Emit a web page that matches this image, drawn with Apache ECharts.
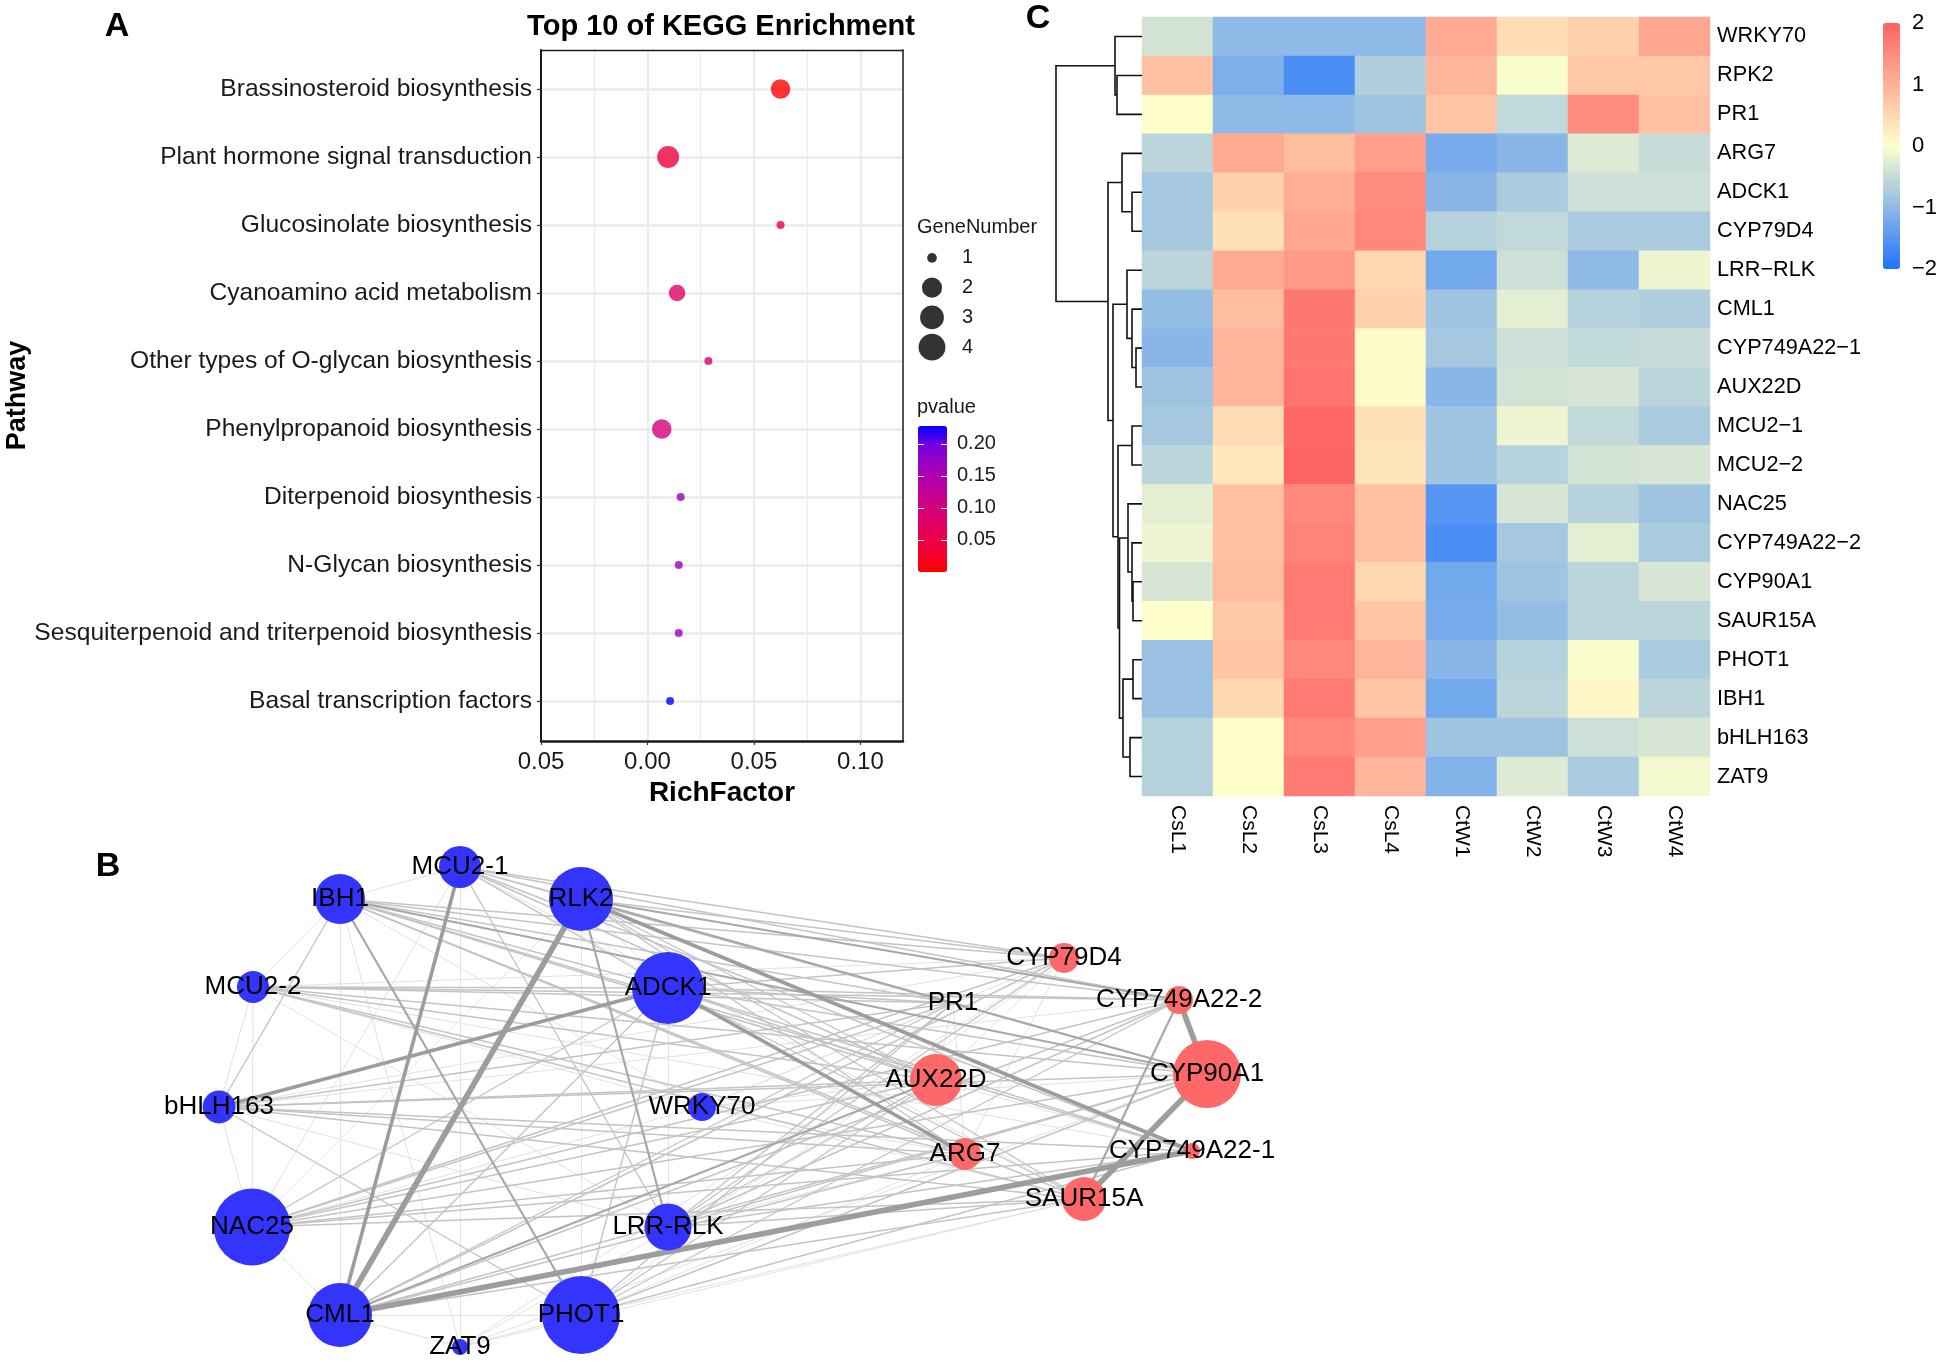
<!DOCTYPE html>
<html><head><meta charset="utf-8">
<script src="https://cdn.jsdelivr.net/npm/echarts@6/dist/echarts.min.js"></script>
<style>html,body{margin:0;padding:0;background:#fff}#c{width:1944px;height:1364px}</style>
</head><body><div id="c"></div>
<script>
// ===== Panel A: KEGG enrichment =====
const pathways = ['Brassinosteroid biosynthesis','Plant hormone signal transduction','Glucosinolate biosynthesis','Cyanoamino acid metabolism','Other types of O-glycan biosynthesis','Phenylpropanoid biosynthesis','Diterpenoid biosynthesis','N-Glycan biosynthesis','Sesquiterpenoid and triterpenoid biosynthesis','Basal transcription factors'];
const richFactor = [0.0625, 0.0097, 0.0625, 0.0139, 0.0286, 0.0067, 0.0156, 0.0147, 0.0147, 0.0106];
const geneNumber = [3, 4, 1, 2, 1, 3, 1, 1, 1, 1];
const pValue = [0.002, 0.040, 0.042, 0.075, 0.082, 0.100, 0.170, 0.168, 0.168, 0.228];
const richTicks = [-0.05, 0, 0.05, 0.10];
const richMinorTicks = [-0.025, 0.025, 0.075];
const pTicks = [0.05, 0.10, 0.15, 0.20];
const geneLegendValues = ['1','2','3','4'];

// ===== Panel C: heatmap (row z-scores) =====
const sampleNames = ['CsL1','CsL2','CsL3','CsL4','CtW1','CtW2','CtW3','CtW4'];
const geneRows = ['WRKY70','RPK2','PR1','ARG7','ADCK1','CYP79D4','LRR−RLK','CML1','CYP749A22−1','AUX22D','MCU2−1','MCU2−2','NAC25','CYP749A22−2','CYP90A1','SAUR15A','PHOT1','IBH1','bHLH163','ZAT9'];
const zScores = [
  [-0.40,-1.00,-1.00,-1.00, 1.10, 0.45, 0.60, 1.15],
  [ 0.80,-1.15,-1.60,-0.70, 0.95,-0.05, 0.70, 0.70],
  [ 0.00,-1.00,-1.00,-0.85, 0.75,-0.55, 1.50, 0.80],
  [-0.60, 1.10, 0.85, 1.25,-1.20,-1.05,-0.30,-0.50],
  [-0.80, 0.60, 1.05, 1.50,-1.05,-0.75,-0.45,-0.45],
  [-0.80, 0.40, 1.15, 1.55,-0.65,-0.55,-0.75,-0.75],
  [-0.60, 1.10, 1.30, 0.50,-1.25,-0.45,-1.00,-0.15],
  [-0.95, 0.85, 1.75, 0.60,-0.85,-0.25,-0.65,-0.70],
  [-1.05, 0.95, 1.75, 0.05,-0.80,-0.45,-0.55,-0.50],
  [-0.85, 0.95, 1.80, 0.05,-1.05,-0.40,-0.35,-0.60],
  [-0.80, 0.45, 1.95, 0.40,-0.85,-0.15,-0.55,-0.75],
  [-0.60, 0.30, 2.00, 0.35,-0.85,-0.65,-0.40,-0.35],
  [-0.25, 0.80, 1.55, 0.80,-1.50,-0.35,-0.65,-0.85],
  [-0.15, 0.80, 1.60, 0.80,-1.60,-0.80,-0.25,-0.75],
  [-0.35, 0.85, 1.70, 0.50,-1.25,-0.85,-0.60,-0.35],
  [ 0.00, 0.70, 1.70, 0.75,-1.20,-0.95,-0.60,-0.60],
  [-0.90, 0.75, 1.55, 0.95,-1.05,-0.65,-0.05,-0.75],
  [-0.90, 0.50, 1.70, 0.75,-1.25,-0.60, 0.10,-0.60],
  [-0.65, 0.00, 1.55, 1.25,-0.85,-0.85,-0.45,-0.35],
  [-0.65, 0.00, 1.70, 0.95,-1.10,-0.30,-0.75,-0.10]
];
// row dendrogram merges: [child A, child B, merge height]; 'mK' = K-th merge
const dendroMerges = [
  ['RPK2','PR1',2.5], ['WRKY70','m0',2.7], ['ADCK1','CYP79D4',1.0], ['ARG7','m2',2.0],
  ['CYP749A22−1','AUX22D',0.6], ['CML1','m4',1.0], ['LRR−RLK','m5',1.5], ['MCU2−1','MCU2−2',1.0],
  ['CYP90A1','SAUR15A',0.9], ['CYP749A22−2','m8',1.0], ['NAC25','m9',1.4], ['PHOT1','IBH1',0.9],
  ['bHLH163','ZAT9',1.2], ['m11','m12',1.9], ['m10','m13',2.25], ['m7','m14',2.4],
  ['m6','m15',2.9], ['m3','m16',3.4], ['m1','m17',8.6]
];

// ===== Panel B: co-expression network =====
const netNodes  = ['MCU2-1','IBH1','RLK2','MCU2-2','ADCK1','bHLH163','WRKY70','NAC25','LRR-RLK','CML1','PHOT1','ZAT9','CYP79D4','PR1','CYP749A22-2','AUX22D','CYP90A1','ARG7','CYP749A22-1','SAUR15A'];
const netGroup  = ['down','down','down','down','down','down','down','down','down','down','down','down','up','up','up','up','up','up','up','up'];
const netLayoutX = [31.0,19.0,43.1,10.3,51.8, 6.9,55.2,10.2,51.8,19.0,43.1,31.0, 91.4,80.3,102.9,78.6,105.7,81.5,104.2,93.4];
const netLayoutY = [ 2.7, 5.9, 5.9,14.7,14.8,26.7,26.7,38.7,38.7,47.5,47.5,50.7, 11.8,16.3, 16.0,24.0, 23.4,31.4, 31.1,35.9];
const netDegree = [10.5,12.5,16,8,18,8.2,7,19.2,11.8,16,19.5,4, 7.5,0.3,7,13,17,8,4,11];
const netEdges = [
 ['MCU2-1','CYP79D4',2],['MCU2-1','PR1',1],['MCU2-1','CYP749A22-2',2],['MCU2-1','AUX22D',2],['MCU2-1','CYP90A1',2],['MCU2-1','ARG7',1],['MCU2-1','CYP749A22-1',2],['MCU2-1','SAUR15A',1],
 ['IBH1','CYP79D4',2],['IBH1','PR1',2],['IBH1','CYP749A22-2',2],['IBH1','AUX22D',2],['IBH1','CYP90A1',3],['IBH1','ARG7',2],['IBH1','CYP749A22-1',2],['IBH1','SAUR15A',2],
 ['RLK2','CYP79D4',2],['RLK2','PR1',2],['RLK2','CYP749A22-2',3],['RLK2','AUX22D',2],['RLK2','CYP90A1',3],['RLK2','ARG7',2],['RLK2','CYP749A22-1',4],['RLK2','SAUR15A',2],
 ['MCU2-2','CYP79D4',1],['MCU2-2','PR1',2],['MCU2-2','CYP749A22-2',2],['MCU2-2','AUX22D',2],['MCU2-2','CYP90A1',2],['MCU2-2','ARG7',2],['MCU2-2','CYP749A22-1',1],['MCU2-2','SAUR15A',2],
 ['ADCK1','CYP79D4',2],['ADCK1','PR1',2],['ADCK1','CYP749A22-2',2],['ADCK1','AUX22D',2],['ADCK1','CYP90A1',2],['ADCK1','ARG7',4],['ADCK1','CYP749A22-1',2],['ADCK1','SAUR15A',2],
 ['bHLH163','CYP79D4',1],['bHLH163','PR1',2],['bHLH163','CYP749A22-2',1],['bHLH163','AUX22D',2],['bHLH163','CYP90A1',2],['bHLH163','ARG7',2],['bHLH163','CYP749A22-1',2],['bHLH163','SAUR15A',2],
 ['WRKY70','CYP79D4',1],['WRKY70','PR1',1],['WRKY70','AUX22D',1],['WRKY70','CYP90A1',1],['WRKY70','ARG7',1],['WRKY70','SAUR15A',1],
 ['NAC25','CYP79D4',2],['NAC25','PR1',2],['NAC25','CYP749A22-2',2],['NAC25','AUX22D',2],['NAC25','CYP90A1',2],['NAC25','ARG7',2],['NAC25','CYP749A22-1',2],['NAC25','SAUR15A',2],
 ['LRR-RLK','CYP79D4',2],['LRR-RLK','PR1',2],['LRR-RLK','CYP749A22-2',2],['LRR-RLK','AUX22D',2],['LRR-RLK','CYP90A1',2],['LRR-RLK','ARG7',1],['LRR-RLK','CYP749A22-1',2],['LRR-RLK','SAUR15A',2],
 ['CML1','CYP79D4',2],['CML1','PR1',2],['CML1','CYP749A22-2',2],['CML1','AUX22D',3],['CML1','CYP90A1',2],['CML1','ARG7',2],['CML1','CYP749A22-1',5],['CML1','SAUR15A',2],
 ['PHOT1','CYP79D4',1],['PHOT1','PR1',2],['PHOT1','CYP749A22-2',2],['PHOT1','AUX22D',2],['PHOT1','CYP90A1',2],['PHOT1','ARG7',1],['PHOT1','CYP749A22-1',2],['PHOT1','SAUR15A',1],
 ['ZAT9','CYP79D4',1],['ZAT9','AUX22D',1],['ZAT9','CYP90A1',1],['ZAT9','SAUR15A',1],
 ['RLK2','CML1',5],['MCU2-1','CML1',4],['bHLH163','ADCK1',4],['IBH1','PHOT1',3],['RLK2','LRR-RLK',3],['MCU2-1','LRR-RLK',2],['IBH1','bHLH163',2],['ADCK1','PHOT1',2],['bHLH163','PHOT1',2],
 ['IBH1','MCU2-2',1],['MCU2-2','bHLH163',1],['bHLH163','NAC25',1],['NAC25','CML1',1],['CML1','ZAT9',1],['ZAT9','PHOT1',1],['MCU2-1','IBH1',1],['MCU2-1','RLK2',1],['RLK2','ADCK1',1],
 ['MCU2-2','NAC25',1],['IBH1','WRKY70',1],['MCU2-2','WRKY70',1],['NAC25','WRKY70',1],['MCU2-1','ZAT9',1],['ADCK1','LRR-RLK',1],['ADCK1','CML1',2],['MCU2-2','LRR-RLK',1],
 ['NAC25','ADCK1',2],['NAC25','RLK2',1],['bHLH163','LRR-RLK',1],['IBH1','ZAT9',1],['CML1','PHOT1',1],['MCU2-2','ADCK1',2],['IBH1','ADCK1',2],['MCU2-1','ADCK1',2],['IBH1','CML1',1],['RLK2','PHOT1',1],['MCU2-1','NAC25',1],
 ['CYP749A22-2','CYP90A1',5],['CYP90A1','SAUR15A',5],['CYP749A22-2','SAUR15A',3],['CYP79D4','AUX22D',1],['CYP79D4','ARG7',1],['PR1','AUX22D',1],['PR1','ARG7',1],['AUX22D','CYP749A22-1',1]
];

// ===== styles =====
const FONT = 'Liberation Sans, Arial, Helvetica, sans-serif';
const pColors = ['#FF0000','#F40031','#E80050','#DA006E','#CA0089','#B400A8','#9A00C2','#7300E0','#0000FF'];
const heatColors = ['#1E73FF','#FFFFCC','#FF6464'];
const dotDiam = g => [0, 8, 16.5, 19.5, 22][g];
const edgeWidth = {1:1, 2:1.4, 3:2.2, 4:3.6, 5:5.6};
const edgeColor = {1:'#e2e2e2', 2:'#c4c4c4', 3:'#a8a8a8', 4:'#9d9d9d', 5:'#9d9d9d'};
const GRID_LINE = '#ebebeb';

// derived data
const scatterData = pathways.map((p, i) => [richFactor[i], i, pValue[i], geneNumber[i]]);
const heatData = [];
zScores.forEach((row, r) => row.forEach((v, c) => heatData.push([c, r, v])));
function buildDendro() {
  const pos = {};
  geneRows.forEach((g, i) => pos[g] = {y: i, h: 0});
  const out = [];
  dendroMerges.forEach((m, k) => {
    const a = pos[m[0]], b = pos[m[1]];
    out.push([a.h, a.y, m[2], b.y, b.h]);
    pos['m' + k] = {y: (a.y + b.y) / 2, h: m[2]};
  });
  return out;
}
const dendroData = buildDendro();
const sortedEdges = netEdges.slice().sort((a, b) => a[2] - b[2]);

const chart = echarts.init(document.getElementById('c'), null, {renderer: 'canvas'});
chart.setOption({
  animation: false,
  backgroundColor: '#fff',
  textStyle: {fontFamily: FONT},
  grid: [
    {left: 541, top: 50, width: 362, height: 691},   // 0 frame A
    {left: 541, top: 89, width: 362, height: 612},   // 1 points A
    {left: 918, top: 426, width: 29, height: 146},   // 2 p legend
    {left: 917, top: 243, width: 30, height: 119},   // 3 gene legend
    {left: 1142, top: 17, width: 568, height: 779},  // 4 heatmap
    {left: 1883, top: 23, width: 17, height: 246},   // 5 heat legend
    {left: 1056, top: 17, width: 86, height: 779},   // 6 dendrogram
    {left: 150, top: 840, width: 1100, height: 524}  // 7 network
  ],
  xAxis: [
    {gridIndex: 0, type: 'value', min: -0.05, max: 0.12, position: 'bottom',
     axisLine: {onZero: false, lineStyle: {color: '#1a1a1a', width: 2.5}},
     axisTick: {show: true, length: 4, customValues: richTicks, lineStyle: {color: '#333', width: 1.2}},
     axisLabel: {customValues: richTicks, fontSize: 24, color: '#1a1a1a', margin: 9, formatter: v => Math.abs(v).toFixed(2)},
     splitLine: {show: true, lineStyle: {color: GRID_LINE, width: 2.2}},
     name: 'RichFactor', nameLocation: 'middle', nameGap: 32,
     nameTextStyle: {fontSize: 28, fontWeight: 'bold', color: '#000'}},
    {gridIndex: 0, type: 'value', min: -0.05, max: 0.12, position: 'top',
     axisLine: {show: true, onZero: false, lineStyle: {color: '#1a1a1a', width: 1.3}},
     axisTick: {show: false, customValues: richMinorTicks}, axisLabel: {show: false},
     splitLine: {show: true, lineStyle: {color: GRID_LINE, width: 1.3}}},
    {gridIndex: 1, type: 'value', min: -0.05, max: 0.12, show: false, axisLine: {onZero: false}},
    {gridIndex: 2, type: 'value', min: 0, max: 1, show: false, axisLine: {onZero: false}},
    {gridIndex: 3, type: 'value', min: 0, max: 1, show: false, axisLine: {onZero: false}},
    {gridIndex: 4, type: 'category', data: sampleNames, position: 'bottom',
     axisLine: {show: false, onZero: false}, axisTick: {show: false},
     axisLabel: {rotate: -90, fontSize: 21, color: '#000', margin: 9}},
    {gridIndex: 5, type: 'value', min: 0, max: 1, show: false, axisLine: {onZero: false}},
    {gridIndex: 6, type: 'value', min: 0, max: 8.6, inverse: true, show: false, axisLine: {onZero: false}},
    {gridIndex: 7, type: 'value', min: 0, max: 110, show: false, axisLine: {onZero: false}}
  ],
  yAxis: [
    {gridIndex: 0, type: 'value', min: 0, max: 1, position: 'left',
     axisLine: {show: true, onZero: false, lineStyle: {color: '#1a1a1a', width: 2}},
     axisTick: {show: false}, axisLabel: {show: false}, splitLine: {show: false},
     name: 'Pathway', nameLocation: 'middle', nameRotate: 90, nameGap: 510,
     nameTextStyle: {fontSize: 27, fontWeight: 'bold', color: '#000'}},
    {gridIndex: 0, type: 'value', min: 0, max: 1, position: 'right',
     axisLine: {show: true, onZero: false, lineStyle: {color: '#1a1a1a', width: 1.5}},
     axisTick: {show: false}, axisLabel: {show: false}, splitLine: {show: false}},
    {gridIndex: 1, type: 'category', data: pathways, inverse: true, boundaryGap: false, position: 'left',
     axisLine: {show: false, onZero: false},
     axisTick: {show: true, length: 4, lineStyle: {color: '#333', width: 1.2}},
     axisLabel: {fontSize: 24.6, color: '#1a1a1a', margin: 9},
     splitLine: {show: true, lineStyle: {color: GRID_LINE, width: 2.6}}},
    {gridIndex: 2, type: 'value', min: 0, max: 0.228, position: 'right', z: 10,
     axisLine: {show: false, onZero: false},
     axisTick: {show: true, inside: true, length: 6, customValues: pTicks, lineStyle: {color: '#fff', width: 1}},
     axisLabel: {customValues: pTicks, fontSize: 20, color: '#1a1a1a', margin: 10, formatter: v => v.toFixed(2)},
     splitLine: {show: false}},
    {gridIndex: 2, type: 'value', min: 0, max: 0.228, position: 'left', z: 10,
     axisLine: {show: false, onZero: false},
     axisTick: {show: true, inside: true, length: 6, customValues: pTicks, lineStyle: {color: '#fff', width: 1}},
     axisLabel: {show: false}, splitLine: {show: false}},
    {gridIndex: 3, type: 'category', data: geneLegendValues, inverse: true, position: 'right',
     axisLine: {show: false, onZero: false}, axisTick: {show: false},
     axisLabel: {fontSize: 20, color: '#1a1a1a', margin: 15}},
    {gridIndex: 4, type: 'category', data: geneRows, inverse: true, position: 'right',
     axisLine: {show: false, onZero: false}, axisTick: {show: false},
     axisLabel: {fontSize: 21.7, color: '#000', margin: 7}},
    {gridIndex: 5, type: 'value', min: -2, max: 2, interval: 1, position: 'right',
     axisLine: {show: false, onZero: false}, axisTick: {show: false}, splitLine: {show: false},
     axisLabel: {fontSize: 22, color: '#000', margin: 12, formatter: v => v < 0 ? '\u2212' + Math.abs(v) : String(v)}},
    {gridIndex: 6, type: 'value', min: -0.5, max: 19.5, inverse: true, show: false, axisLine: {onZero: false}},
    {gridIndex: 7, type: 'value', min: 0, max: 52.4, inverse: true, show: false, axisLine: {onZero: false}}
  ],
  visualMap: [
    {type: 'continuous', seriesIndex: 0, dimension: 2, min: 0, max: 0.228,
     inRange: {color: pColors}, left: 918, top: 426, itemWidth: 29, itemHeight: 146,
     padding: 0, calculable: false, text: null, showLabel: false},
    {type: 'continuous', seriesIndex: 2, dimension: 2, min: -2, max: 2,
     inRange: {color: heatColors}, left: 1883, top: 23, itemWidth: 17, itemHeight: 246,
     padding: 0, calculable: false, text: null, showLabel: false}
  ],
  graphic: [
    {type: 'text', x: 117, y: 27, style: {text: 'A', font: 'bold 34px ' + FONT, fill: '#000', textAlign: 'center', textVerticalAlign: 'middle'}},
    {type: 'text', x: 108, y: 867, style: {text: 'B', font: 'bold 34px ' + FONT, fill: '#000', textAlign: 'center', textVerticalAlign: 'middle'}},
    {type: 'text', x: 1038, y: 19, style: {text: 'C', font: 'bold 34px ' + FONT, fill: '#000', textAlign: 'center', textVerticalAlign: 'middle'}},
    {type: 'text', x: 721, y: 27, style: {text: 'Top 10 of KEGG Enrichment', font: 'bold 29px ' + FONT, fill: '#000', textAlign: 'center', textVerticalAlign: 'middle'}},
    {type: 'text', x: 917, y: 227, style: {text: 'GeneNumber', font: '20px ' + FONT, fill: '#1a1a1a', textAlign: 'left', textVerticalAlign: 'middle'}},
    {type: 'text', x: 917, y: 407, style: {text: 'pvalue', font: '20px ' + FONT, fill: '#1a1a1a', textAlign: 'left', textVerticalAlign: 'middle'}}
  ],
  series: [
    {type: 'scatter', xAxisIndex: 2, yAxisIndex: 2, data: scatterData,
     symbolSize: v => dotDiam(v[3]), silent: true, z: 5},
    {type: 'scatter', xAxisIndex: 4, yAxisIndex: 5,
     data: geneLegendValues.map(g => [0.5, g, Number(g)]),
     symbolSize: v => dotDiam(v[2]) * 1.22, itemStyle: {color: '#000'}, silent: true},
    {type: 'heatmap', xAxisIndex: 5, yAxisIndex: 6, data: heatData,
     itemStyle: {borderWidth: 0}, emphasis: {disabled: true}, silent: true, progressive: 0},
    {type: 'custom', xAxisIndex: 7, yAxisIndex: 8, data: dendroData, silent: true,
     encode: {x: [0, 2, 4], y: [1, 3]},
     renderItem: (params, api) => {
       const pts = [
         api.coord([api.value(0), api.value(1)]),
         api.coord([api.value(2), api.value(1)]),
         api.coord([api.value(2), api.value(3)]),
         api.coord([api.value(4), api.value(3)])
       ];
       return {type: 'polyline', shape: {points: pts}, style: {stroke: '#111', lineWidth: 1.6, fill: null}};
     }},
    {type: 'graph', coordinateSystem: 'cartesian2d', xAxisIndex: 8, yAxisIndex: 9, silent: true,
     data: netNodes.map((n, i) => ({name: n, value: [netLayoutX[i], netLayoutY[i]],
       symbolSize: netDegree[i] * 4,
       itemStyle: {color: netGroup[i] === 'up' ? '#FF6868' : '#3434FF'}})),
     links: sortedEdges.map(e => ({source: e[0], target: e[1],
       lineStyle: {width: edgeWidth[e[2]], color: edgeColor[e[2]], opacity: 1, curveness: 0}})),
     label: {show: true, position: 'inside', fontSize: 26, color: '#000', fontFamily: FONT},
     lineStyle: {opacity: 1, curveness: 0},
     emphasis: {disabled: true}}
  ]
});
</script>
</body></html>
